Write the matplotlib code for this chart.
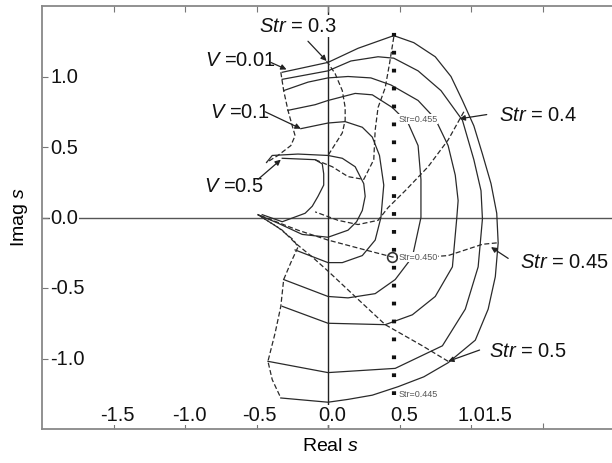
import matplotlib
matplotlib.use("Agg")
import matplotlib.pyplot as plt

plt.rcParams['font.family'] = ['Liberation Sans', 'DejaVu Sans']
plt.rcParams['mathtext.fontset'] = 'custom'
plt.rcParams['mathtext.it'] = 'Liberation Sans:italic'
plt.rcParams['mathtext.rm'] = 'Liberation Sans'

# constant-V loci (solid), points as (Re s, Im s)
v_loci = [
    [(-0.32, 1.03), (0.00, 1.10), (0.21, 1.20), (0.46, 1.29), (0.60, 1.24), (0.75, 1.14),
     (0.86, 1.00), (0.94, 0.83), (1.02, 0.65), (1.08, 0.45), (1.14, 0.24), (1.18, 0.03),
     (1.19, -0.18), (1.17, -0.42), (1.12, -0.65), (1.03, -0.87), (0.84, -1.03),
     (0.67, -1.13), (0.49, -1.20), (0.31, -1.26), (0.14, -1.29), (0.00, -1.31), (-0.33, -1.28)],
    [(-0.32, 0.98), (0.00, 1.04), (0.16, 1.11), (0.35, 1.14), (0.46, 1.13), (0.63, 1.04),
     (0.79, 0.90), (0.94, 0.69), (1.02, 0.41), (1.07, 0.19), (1.08, -0.01), (1.05, -0.35),
     (0.96, -0.65), (0.80, -0.91), (0.47, -1.07), (0.00, -1.10), (-0.42, -1.02)],
    [(-0.31, 0.90), (-0.14, 0.96), (0.00, 0.99), (0.14, 1.00), (0.30, 0.99), (0.44, 0.94),
     (0.63, 0.83), (0.75, 0.70), (0.84, 0.51), (0.89, 0.30), (0.91, 0.12), (0.90, -0.01),
     (0.87, -0.35), (0.75, -0.56), (0.59, -0.69), (0.40, -0.76), (0.00, -0.75), (-0.32, -0.63)],
    [(-0.28, 0.76), (-0.09, 0.80), (0.00, 0.83), (0.19, 0.88), (0.31, 0.87), (0.45, 0.78),
     (0.56, 0.67), (0.63, 0.51), (0.65, 0.27), (0.65, 0.00), (0.59, -0.28), (0.47, -0.44),
     (0.33, -0.54), (0.14, -0.57), (0.00, -0.56), (-0.31, -0.44)],
    [(-0.19, 0.63), (0.00, 0.67), (0.12, 0.68), (0.24, 0.64), (0.31, 0.57), (0.36, 0.44),
     (0.39, 0.23), (0.37, 0.00), (0.33, -0.16), (0.24, -0.27), (0.10, -0.32), (0.00, -0.32),
     (-0.23, -0.23)],
    [(-0.43, 0.39), (-0.39, 0.44), (-0.21, 0.45), (0.00, 0.44), (0.10, 0.42), (0.19, 0.36),
     (0.25, 0.24), (0.26, 0.15), (0.24, 0.05), (0.20, -0.03), (0.14, -0.09), (0.00, -0.14),
     (-0.18, -0.12), (-0.35, -0.04), (-0.49, 0.02)],
    [(-0.32, 0.42), (-0.09, 0.41), (-0.04, 0.38), (-0.03, 0.31), (-0.03, 0.23), (-0.07, 0.15),
     (-0.11, 0.08), (-0.16, 0.03), (-0.32, -0.03), (-0.46, 0.02)],
]

# constant-Str loci and boundaries (dashed)
str_loci = [
    [(-0.33, 1.03), (-0.31, 0.90), (-0.28, 0.76), (-0.25, 0.65), (-0.23, 0.58), (-0.26, 0.51),
     (-0.35, 0.44), (-0.43, 0.39)],
    [(-0.49, 0.02), (-0.35, -0.07), (-0.24, -0.16), (-0.21, -0.21), (-0.26, -0.32),
     (-0.31, -0.44), (-0.33, -0.63), (-0.37, -0.82), (-0.42, -1.02), (-0.39, -1.15), (-0.33, -1.28)],
    [(-0.01, 1.11), (0.05, 1.02), (0.10, 0.90), (0.12, 0.78), (0.12, 0.69), (0.10, 0.60),
     (0.05, 0.52), (0.00, 0.44)],
    [(0.46, 1.28), (0.43, 1.09), (0.40, 0.92), (0.35, 0.78), (0.33, 0.62), (0.32, 0.41),
     (0.25, 0.27), (0.14, 0.29), (0.03, 0.36), (-0.09, 0.41)],
    [(0.95, 0.75), (0.84, 0.55), (0.70, 0.36), (0.54, 0.19), (0.42, 0.07), (0.35, -0.02),
     (0.21, -0.05), (0.07, -0.02), (-0.09, 0.04)],
    [(1.18, -0.18), (1.08, -0.19), (0.96, -0.23), (0.84, -0.27), (0.70, -0.28), (0.45, -0.28),
     (0.26, -0.23), (0.00, -0.16), (-0.21, -0.09), (-0.49, 0.02)],
    [(0.84, -1.02), (0.66, -0.91), (0.40, -0.76), (0.21, -0.58), (0.00, -0.38), (-0.11, -0.28),
     (-0.23, -0.18), (-0.32, -0.09), (-0.49, 0.02)],
]

# labels with arrows: text, text position, arrow start, arrow tip
callouts = [
    ("$Str$ = 0.3", (-0.21, 1.36), (-0.14, 1.25), (-0.01, 1.11)),
    ("$V$ =0.01", (-0.61, 1.12), (-0.40, 1.10), (-0.29, 1.05)),
    ("$V$ =0.1", (-0.62, 0.75), (-0.44, 0.75), (-0.19, 0.63)),
    ("$V$ =0.5", (-0.66, 0.23), (-0.49, 0.27), (-0.33, 0.41)),
    ("$Str$ = 0.4", (1.47, 0.73), (1.11, 0.73), (0.92, 0.70)),
    ("$Str$ = 0.45", (1.65, -0.31), (1.26, -0.29), (1.14, -0.21)),
    ("$Str$ = 0.5", (1.40, -0.94), (1.06, -0.94), (0.84, -1.02)),
]

# marked Strouhal values along the dotted line
dotted_re = 0.46
dotted_im = (-1.26, 1.38)
small_labels = ["Str=0.455", "Str=0.450", "Str=0.445"]
small_im = [0.70, -0.28, -1.25]
circle_point = (0.45, -0.28)

xticks = [-1.5, -1.0, -0.5, 0.0, 0.5, 1.0, 1.5]
xtick_text = ["-1.5", "-1.0", "-0.5", "0.0", "0.5", "1.0", "1.5"]
xtick_text_pos = [-1.47, -0.97, -0.48, 0.03, 0.53, 1.00, 1.195]
yticks = [1.0, 0.5, 0.0, -0.5, -1.0]
ytick_text = ["1.0", "0.5", "0.0", "-0.5", "-1.0"]

fig = plt.figure(figsize=(6.12, 4.64), dpi=100)
ax = fig.add_axes([42 / 612, 34 / 464, 572 / 612, 423 / 464])
ax.set_xlim(-2.0, 2.0)
ax.set_ylim(-1.5, 1.5)

line_col = '#2a2a2a'
ax.axhline(0, color='#555555', lw=1.0, zorder=1)
ax.axvline(0, color='#222222', lw=1.0, zorder=1)

for c in v_loci:
    xs, ys = zip(*c)
    ax.plot(xs, ys, color=line_col, lw=0.9, zorder=2, solid_joinstyle='round')
for c in str_loci:
    xs, ys = zip(*c)
    ax.plot(xs, ys, color=line_col, lw=0.9, dashes=(4, 2), zorder=2)

ax.plot([dotted_re, dotted_re], dotted_im, color='#111111', lw=3.0,
        dashes=(0.9, 3.4), dash_capstyle='butt', zorder=3)
ax.plot(*circle_point, marker='o', ms=7, mfc='none', mec='#333333', mew=1.2, zorder=4)

for s, yv in zip(small_labels, small_im):
    ax.text(dotted_re + 0.03, yv, s, fontsize=6.5, color='#555555', ha='left', va='center',
            bbox=dict(fc='white', ec='none', pad=0.3), zorder=5)

for txt, pos, start, tip in callouts:
    ax.text(pos[0], pos[1], txt, fontsize=14.5, ha='center', va='center', color='#111111',
            bbox=dict(fc='white', ec='none', pad=1.0), zorder=6)
    ax.annotate('', xy=tip, xytext=start,
                arrowprops=dict(arrowstyle='-|>', color='#222222', lw=0.9,
                                mutation_scale=8, shrinkA=0, shrinkB=0), zorder=6)

ax.set_xticks(xticks)
ax.set_yticks(yticks)
ax.tick_params(direction='in', length=4, width=0.8, color='#777777', top=True,
               labelbottom=False, labelleft=False)
for sp in ax.spines.values():
    sp.set_color('#888888')
    sp.set_linewidth(1.3)

for s, xv in zip(xtick_text, xtick_text_pos):
    ax.text(xv, -1.40, s, fontsize=14.5, ha='center', va='center', color='#111111',
            bbox=dict(fc='white', ec='none', pad=0.5), zorder=7)
for s, yv in zip(ytick_text, yticks):
    ax.text(-1.94, yv, s, fontsize=14.5, ha='left', va='center', color='#111111',
            bbox=dict(fc='white', ec='none', pad=0.5), zorder=7)

fig.text(330 / 612, 1 - 447 / 464, "Real $s$", fontsize=14, ha='center', va='center')
fig.text(20 / 612, 1 - 217 / 464, "Imag $s$", fontsize=14, ha='center', va='center',
         rotation=90)

fig.savefig("out.png", dpi=100)
